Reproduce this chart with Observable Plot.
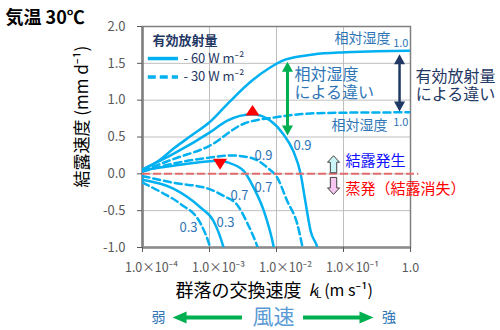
<!DOCTYPE html>
<html><head><meta charset="utf-8">
<script src="https://cdn.jsdelivr.net/npm/d3@7"></script>
<script src="https://cdn.jsdelivr.net/npm/@observablehq/plot@0.6"></script>
<style>body{margin:0;background:#fff} svg{display:block}</style>
</head><body><div id="chart"></div>
<script>
// ---- axes ----
const xTicks = [1e-4, 1e-3, 1e-2, 1e-1, 1];
const xTickLabels = ["1.0×10⁻⁴", "1.0×10⁻³", "1.0×10⁻²", "1.0×10⁻¹", "1.0"];
const yTicks = [-1, -0.5, 0, 0.5, 1, 1.5, 2];

// ---- series: [log10(kL), condensation rate mm/d] ----
// effective radiation -60 W m-2 (solid)
const s60_rh10 = [[-4,0.06],[-3.77,0.17],[-3.54,0.34],[-3.27,0.52],[-3.0,0.7],[-2.72,0.96],[-2.36,1.27],[-2.1,1.44],[-1.87,1.55],[-1.45,1.62],[-0.97,1.65],[-0.5,1.665],[0,1.67]];
const s60_rh09 = [[-4,0.06],[-3.54,0.27],[-3.0,0.56],[-2.74,0.72],[-2.36,0.81],[-2.09,0.72],[-1.9,0.54],[-1.75,0.31],[-1.64,0.0],[-1.57,-0.37],[-1.49,-0.78],[-1.39,-1.0],[-1.35,-1.15]];
const s60_rh07 = [[-4,0.05],[-3.54,0.11],[-3.0,0.17],[-2.85,0.18],[-2.73,0.155],[-2.49,0.04],[-2.34,-0.19],[-2.19,-0.5],[-2.04,-1.0],[-2.0,-1.2]];
const s60_rh03 = [[-4,-0.08],[-3.54,-0.2],[-3.13,-0.46],[-2.94,-0.64],[-2.79,-1.0],[-2.76,-1.1]];
// effective radiation -30 W m-2 (dashed)
const s30_rh10 = [[-4,0.04],[-3.54,0.2],[-3.0,0.38],[-2.49,0.68],[-1.99,0.77],[-1.49,0.82],[-1.0,0.83],[0,0.835]];
const s30_rh09 = [[-4,0.03],[-3.54,0.14],[-3.0,0.22],[-2.69,0.25],[-2.39,0.22],[-2.13,0.08],[-1.99,-0.05],[-1.84,-0.37],[-1.69,-0.68],[-1.61,-1.0],[-1.58,-1.12]];
const s30_rh07 = [[-4,-0.03],[-3.54,-0.12],[-2.99,-0.21],[-2.79,-0.3],[-2.58,-0.43],[-2.43,-0.68],[-2.28,-1.0],[-2.25,-1.08]];
const s30_rh03 = [[-4,-0.12],[-3.7,-0.26],[-3.43,-0.41],[-3.13,-0.68],[-2.99,-1.0],[-2.96,-1.1]];

const seriesNames = ["-60 1.0","-60 0.9","-60 0.7","-60 0.3","-30 1.0","-30 0.9","-30 0.7","-30 0.3"];
const seriesPts = [s60_rh10, s60_rh09, s60_rh07, s60_rh03, s30_rh10, s30_rh09, s30_rh07, s30_rh03];
const seriesDash = [false,false,false,false,true,true,true,true];

// curve labels (relative humidity)
const curveLabels = [
  {k: 0.00640, v: 0.245, t: "0.9"}, {k: 0.02443, v: 0.382, t: "0.9"},
  {k: 0.00640, v: -0.19, t: "0.7"}, {k: 0.002807, v: -0.30, t: "0.7"},
  {k: 0.001734, v: -0.668, t: "0.3"}, {k: 4.86e-4, v: -0.737, t: "0.3"}
];
// peak markers
const peakUp = [{k: 0.004385, v: 0.86}];
const peakDown = [{k: 0.001437, v: 0.13}];

const rows = seriesPts.flatMap((pts, i) => pts.map(([lk, v]) => ({k: 10 ** lk, v, name: seriesNames[i], dash: seriesDash[i]})));

// ---- custom symbols ----
const sym = (f) => ({draw(c) { f(c); c.closePath(); }});
const triUp = sym(c => { c.moveTo(0,-5.5); c.lineTo(7,5); c.lineTo(-7,5); });
const triDown = sym(c => { c.moveTo(-7,-5.5); c.lineTo(7,-5.5); c.lineTo(0,5.5); });
const headUp = sym(c => { c.moveTo(0,0); c.lineTo(5.5,10); c.lineTo(-5.5,10); });
const headDown = sym(c => { c.moveTo(0,0); c.lineTo(5.5,-10); c.lineTo(-5.5,-10); });
const headLeft = sym(c => { c.moveTo(0,0); c.lineTo(14,-6); c.lineTo(14,6); });
const headRight = sym(c => { c.moveTo(0,0); c.lineTo(-14,-6); c.lineTo(-14,6); });
const blockUp = sym(c => { c.moveTo(0,-8.5); c.lineTo(6,-2); c.lineTo(3.2,-2); c.lineTo(3.2,8.5); c.lineTo(-3.2,8.5); c.lineTo(-3.2,-2); c.lineTo(-6,-2); });
const blockDown = sym(c => { c.moveTo(0,8.5); c.lineTo(6,2); c.lineTo(3.2,2); c.lineTo(3.2,-8.5); c.lineTo(-3.2,-8.5); c.lineTo(-3.2,2); c.lineTo(-6,2); });

const blue = "#00B0F0";
const labBlue = "#2E75B6";
const navy = "#1F3864";
const green = "#00B050";

const annotations = [
  {k: 9.0e-7, v: 2.114, t: "気温 30℃", size: 18, weight: "bold", fill: "#000", anchor: "start"},
  {k: 1.41e-4, v: 1.80, t: "有効放射量", size: 13, weight: "bold", fill: navy, anchor: "start"},
  {k: 4.09e-4, v: 1.565, t: "- 60 W m⁻²", size: 13, fill: navy, anchor: "start"},
  {k: 4.09e-4, v: 1.313, t: "- 30 W m⁻²", size: 13, fill: navy, anchor: "start"},
  {k: 0.502, v: 1.84, t: "相対湿度", size: 14, fill: labBlue, anchor: "end"},
  {k: 0.933, v: 1.77, t: "1.0", size: 11, fill: labBlue, anchor: "end"},
  {k: 0.454, v: 0.655, t: "相対湿度", size: 14, fill: labBlue, anchor: "end"},
  {k: 0.933, v: 0.70, t: "1.0", size: 11, fill: labBlue, anchor: "end"},
  {k: 0.01858, v: 1.227, t: "相対湿度\nによる違い", size: 16, fill: labBlue, anchor: "start", lh: 1.13},
  {k: 4.70, v: 1.20, t: "有効放射量\nによる違い", size: 16, fill: navy, anchor: "middle", lh: 1.13},
  {k: 0.107, v: 0.177, t: "結露発生", size: 15, fill: "#1010FF", anchor: "start"},
  {k: 0.107, v: -0.205, t: "蒸発（結露消失）", size: 15, fill: "#FF0000", anchor: "start"},
  {k: 3.11e-4, v: -1.595, t: "群落の交換速度", size: 18, fill: "#000", anchor: "start"},
  {k: 0.0301, v: -1.595, t: "k", size: 16, fill: "#000", anchor: "start", style: "italic"},
  {k: 0.0389, v: -1.64, t: "L", size: 10, fill: "#000", anchor: "start"},
  {k: 0.0515, v: -1.595, t: "(m s⁻¹)", size: 16, fill: "#000", anchor: "start"},
  {k: 1.73e-4, v: -1.95, t: "弱", size: 14, fill: labBlue, anchor: "middle"},
  {k: 9.02e-3, v: -1.95, t: "風速", size: 21, fill: "#5B9BD5", anchor: "middle"},
  {k: 0.4775, v: -1.95, t: "強", size: 14, fill: labBlue, anchor: "middle"}
];

const chart = Plot.plot({
  width: 500, height: 330,
  marginLeft: 142, marginRight: 90, marginTop: 26, marginBottom: 83,
  x: {type: "log", domain: [1e-4, 1]},
  y: {domain: [-1, 2], label: null},
  style: {fontFamily: "'Noto Sans CJK JP', 'Noto Sans', sans-serif", color: "#595959", background: "#fff", overflow: "visible"},
  marks: [
    Plot.gridX(xTicks, {stroke: "#bfbfbf", strokeOpacity: 1}),
    Plot.gridY(yTicks, {stroke: "#bfbfbf", strokeOpacity: 1}),
    Plot.frame({stroke: "#7f7f7f", strokeWidth: 1.5}),
    Plot.ruleX([1e-4], {stroke: "#7f7f7f", strokeWidth: 2.5}),
    Plot.ruleY([-1], {stroke: "#8c8c8c", strokeWidth: 2.5}),
    Plot.axisY(yTicks, {tickFormat: d => d.toFixed(1), tickSize: 5, tickPadding: 12, fontSize: 13, label: null}),
    Plot.axisX(xTicks, {tickFormat: () => "", tickSize: 5, label: null}),
    Plot.text(xTicks.slice(0, 4), {x: d => d, y: -1.282, text: (d, i) => xTickLabels[i], dx: 9, fontSize: 12.5, fill: "#595959"}),
    Plot.text(xTicks.slice(4), {x: d => d, y: -1.282, text: () => xTickLabels[4], fontSize: 12.5, fill: "#595959"}),
    Plot.text(["結露速度 (mm d⁻¹)"], {x: 1.27e-5, y: 0.777, rotate: -90, fontSize: 17, fill: "#000"}),
    Plot.line(rows.filter(d => !d.dash), {x: "k", y: "v", z: "name", stroke: blue, strokeWidth: 2.5, curve: "monotone-x", clip: true}),
    Plot.line(rows.filter(d => d.dash), {x: "k", y: "v", z: "name", stroke: blue, strokeWidth: 2.5, strokeDasharray: "7,4", curve: "monotone-x", clip: true}),
    Plot.ruleY([0], {x1: 1e-4, x2: 1.33, stroke: "#E46C6C", strokeWidth: 2, strokeDasharray: "8,3"}),
    Plot.text(curveLabels, {x: "k", y: "v", text: "t", fontSize: 13, fill: labBlue}),
    Plot.dot(peakUp, {x: "k", y: "v", symbol: triUp, r: 5, fill: "#FF0000", stroke: "none"}),
    Plot.dot(peakDown, {x: "k", y: "v", symbol: triDown, r: 5, fill: "#FF0000", stroke: "none"}),
    // legend samples
    Plot.ruleY([1.565], {x1: 1.22e-4, x2: 3.44e-4, stroke: blue, strokeWidth: 3.5}),
    Plot.ruleY([1.313], {x1: 1.22e-4, x2: 3.44e-4, stroke: blue, strokeWidth: 3.5, strokeDasharray: "8,4"}),
    // relative humidity difference arrow (green)
    Plot.ruleX([0.01459], {y1: 0.6, y2: 1.45, stroke: green, strokeWidth: 3}),
    Plot.dot([{k: 0.01459, v: 1.52}], {x: "k", y: "v", symbol: headUp, r: 5, fill: green, stroke: "none"}),
    Plot.dot([{k: 0.01459, v: 0.52}], {x: "k", y: "v", symbol: headDown, r: 5, fill: green, stroke: "none"}),
    // radiation difference arrow (navy)
    Plot.ruleX([0.686], {y1: 0.92, y2: 1.56, stroke: navy, strokeWidth: 2.5}),
    Plot.dot([{k: 0.686, v: 1.623}], {x: "k", y: "v", symbol: headUp, r: 5, fill: navy, stroke: "none"}),
    Plot.dot([{k: 0.686, v: 0.846}], {x: "k", y: "v", symbol: headDown, r: 5, fill: navy, stroke: "none"}),
    // condensation / evaporation block arrows
    Plot.dot([{k: 0.0710, v: 0.13}], {x: "k", y: "v", symbol: blockUp, r: 5, fill: "#CCF6F6", stroke: "#404040", strokeWidth: 1}),
    Plot.dot([{k: 0.0710, v: -0.164}], {x: "k", y: "v", symbol: blockDown, r: 5, fill: "#F6C6F0", stroke: "#404040", strokeWidth: 1}),
    // wind speed arrows
    Plot.ruleY([-1.95], {x1: 3.69e-4, x2: 3.11e-3, stroke: green, strokeWidth: 4}),
    Plot.dot([{k: 2.81e-4, v: -1.95}], {x: "k", y: "v", symbol: headLeft, r: 5, fill: green, stroke: "none"}),
    Plot.ruleY([-1.95], {x1: 0.0253, x2: 0.2128, stroke: green, strokeWidth: 4}),
    Plot.dot([{k: 0.2806, v: -1.95}], {x: "k", y: "v", symbol: headRight, r: 5, fill: green, stroke: "none"}),
    ...annotations.map(a => Plot.text([a], {x: "k", y: "v", text: "t", fontSize: a.size, fill: a.fill, textAnchor: a.anchor, fontWeight: a.weight || "normal", fontStyle: a.style || "normal", lineHeight: a.lh || 1}))
  ]
});
document.getElementById("chart").appendChild(chart);
</script>
</body></html>
